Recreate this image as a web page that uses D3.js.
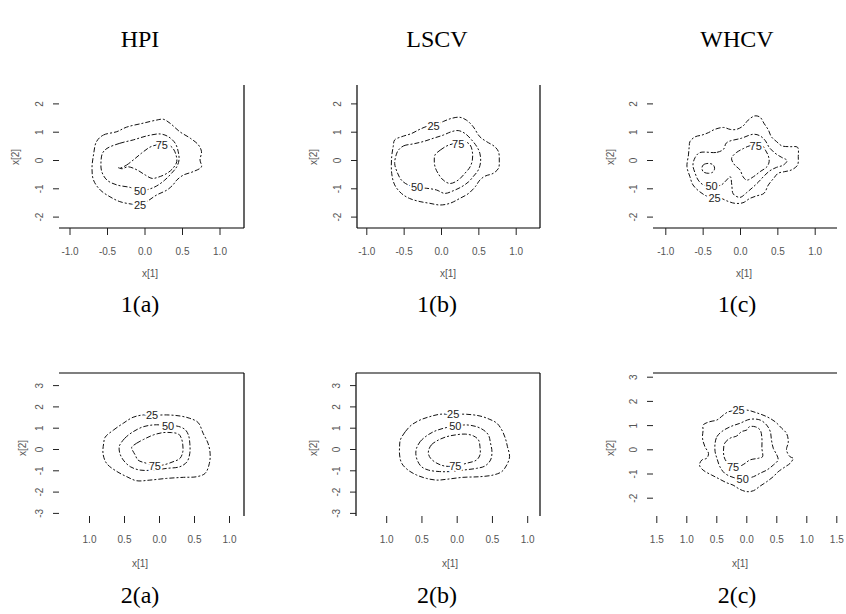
<!DOCTYPE html>
<html><head><meta charset="utf-8">
<script src="https://cdn.jsdelivr.net/npm/d3@7"></script>
<style>
html,body{margin:0;padding:0;background:#fff;}
svg{display:block;}
</style></head><body>
<svg id="chart" width="846" height="614"></svg>
<script>
// Column headings and panel tags
const titles = ["HPI", "LSCV", "WHCV"];
const tagsRow1 = ["1(a)", "1(b)", "1(c)"];
const tagsRow2 = ["2(a)", "2(b)", "2(c)"];

// Tick values
const xTicksRow1 = [-1, -0.5, 0, 0.5, 1];
const yTicksRow1 = [-2, -1, 0, 1, 2];
const xTicks2ab = [-1, -0.5, 0, 0.5, 1];
const yTicks2ab = [-3, -2, -1, 0, 1, 2, 3];
const xTicks2c = [-1.5, -1, -0.5, 0, 0.5, 1, 1.5];
const yTicks2c = [-2, -1, 0, 1, 2, 3];

// Density contours (x[1], x[2]) at the 25%, 50% and 75% levels
const c1a_25 = [[-0.64,0.65],[-0.55,0.88],[-0.37,1.0],[-0.24,1.16],[-0.02,1.3],[0.16,1.41],[0.25,1.44],[0.34,1.3],[0.47,1.0],[0.61,0.77],[0.72,0.53],[0.76,0.29],[0.74,0],[0.76,-0.24],[0.65,-0.41],[0.52,-0.53],[0.43,-0.71],[0.38,-0.88],[0.3,-1.06],[0.16,-1.24],[0.03,-1.47],[-0.06,-1.59],[-0.17,-1.56],[-0.33,-1.47],[-0.46,-1.3],[-0.59,-1.06],[-0.68,-0.71],[-0.7,-0.29],[-0.68,0.18]];
const c1a_50 = [[-0.5,0.41],[-0.33,0.59],[-0.15,0.71],[0.03,0.85],[0.21,0.92],[0.32,0.82],[0.41,0.59],[0.45,0.29],[0.46,0],[0.43,-0.24],[0.36,-0.47],[0.27,-0.71],[0.16,-0.92],[0.05,-1.04],[-0.06,-1.09],[-0.19,-0.97],[-0.37,-0.88],[-0.5,-0.71],[-0.57,-0.41],[-0.58,-0.06],[-0.56,0.24]];
const c1a_75 = [[-0.33,-0.29],[-0.24,-0.18],[-0.15,0],[-0.04,0.24],[0.07,0.45],[0.16,0.53],[0.23,0.52],[0.32,0.53],[0.38,0.41],[0.42,0.18],[0.43,-0.06],[0.38,-0.29],[0.3,-0.47],[0.18,-0.61],[0.1,-0.65],[0.01,-0.53],[-0.1,-0.35],[-0.22,-0.24],[-0.3,-0.31],[-0.35,-0.27]];

const c1b_25 = [[-0.62,0.71],[-0.53,0.82],[-0.39,0.94],[-0.28,1.09],[-0.17,1.2],[-0.1,1.2],[0.03,1.36],[0.14,1.47],[0.25,1.51],[0.34,1.41],[0.43,1.18],[0.52,0.82],[0.61,0.65],[0.72,0.47],[0.77,0.29],[0.78,0],[0.77,-0.29],[0.7,-0.47],[0.59,-0.57],[0.52,-0.71],[0.46,-0.94],[0.37,-1.18],[0.25,-1.36],[0.12,-1.53],[-0.01,-1.59],[-0.15,-1.53],[-0.28,-1.47],[-0.42,-1.36],[-0.53,-1.18],[-0.62,-0.88],[-0.66,-0.47],[-0.66,0.12],[-0.64,0.47]];
const c1b_50 = [[-0.57,0.35],[-0.5,0.5],[-0.37,0.57],[-0.24,0.65],[-0.1,0.77],[0.03,0.88],[0.14,1.0],[0.23,1.04],[0.32,0.94],[0.41,0.71],[0.48,0.47],[0.52,0.24],[0.53,-0.06],[0.5,-0.35],[0.43,-0.59],[0.37,-0.77],[0.28,-0.94],[0.17,-1.08],[0.05,-1.18],[-0.06,-1.06],[-0.19,-1.0],[-0.32,-0.97],[-0.44,-0.88],[-0.53,-0.71],[-0.59,-0.41],[-0.62,-0.12],[-0.6,0.18]];
const c1b_75 = [[-0.08,0.18],[-0.01,0.35],[0.08,0.5],[0.16,0.57],[0.23,0.57],[0.32,0.65],[0.39,0.53],[0.42,0.29],[0.42,0],[0.39,-0.24],[0.32,-0.47],[0.23,-0.71],[0.12,-0.83],[0.03,-0.71],[-0.04,-0.47],[-0.08,-0.24],[-0.09,0]];

const c1c_25 = [[-0.67,0.65],[-0.6,0.82],[-0.51,0.88],[-0.42,0.97],[-0.34,1.08],[-0.22,1.15],[-0.13,1.08],[-0.05,1.08],[0.04,1.2],[0.11,1.41],[0.2,1.56],[0.27,1.51],[0.32,1.3],[0.38,1.06],[0.42,0.82],[0.49,0.65],[0.56,0.5],[0.67,0.47],[0.77,0.45],[0.78,0.12],[0.77,-0.18],[0.69,-0.35],[0.6,-0.41],[0.51,-0.47],[0.45,-0.65],[0.38,-0.88],[0.32,-1.18],[0.22,-1.27],[0.13,-1.36],[0.04,-1.51],[-0.07,-1.53],[-0.18,-1.44],[-0.25,-1.36],[-0.34,-1.36],[-0.45,-1.27],[-0.54,-1.12],[-0.63,-0.88],[-0.67,-0.59],[-0.71,-0.24],[-0.69,0.18],[-0.68,0.47]];
const c1c_50 = [[-0.54,0.26],[-0.31,0.27],[-0.22,0.38],[-0.18,0.61],[0.02,0.77],[0.18,0.91],[0.27,0.85],[0.34,0.68],[0.39,0.45],[0.47,0.24],[0.56,0.09],[0.63,-0.02],[0.58,-0.18],[0.49,-0.26],[0.4,-0.38],[0.32,-0.57],[0.25,-0.77],[0.17,-0.97],[0.09,-1.15],[0,-1.32],[-0.09,-1.2],[-0.11,-0.88],[-0.13,-0.59],[-0.18,-0.71],[-0.25,-0.88],[-0.38,-0.94],[-0.49,-0.88],[-0.56,-0.71],[-0.6,-0.47],[-0.63,-0.18],[-0.6,0.09]];
const c1c_75 = [[-0.11,0.09],[-0.05,0.26],[0.05,0.41],[0.13,0.5],[0.21,0.5],[0.29,0.53],[0.34,0.35],[0.38,0.14],[0.39,-0.06],[0.36,-0.24],[0.27,-0.41],[0.18,-0.59],[0.09,-0.71],[0.04,-0.59],[0,-0.35],[-0.07,-0.18],[-0.11,0]];
const c1c_75b = [[-0.51,-0.29],[-0.49,-0.17],[-0.42,-0.12],[-0.36,-0.17],[-0.34,-0.29],[-0.36,-0.42],[-0.42,-0.47],[-0.49,-0.42]];

const c2a_25 = [[-0.77,0.55],[-0.65,0.89],[-0.51,1.21],[-0.37,1.49],[-0.22,1.6],[-0.1,1.58],[0.11,1.6],[0.3,1.55],[0.44,1.44],[0.56,1.24],[0.63,0.74],[0.7,0.27],[0.73,-0.2],[0.72,-0.67],[0.66,-1.14],[0.54,-1.3],[0.35,-1.33],[0.11,-1.38],[-0.13,-1.46],[-0.32,-1.49],[-0.46,-1.3],[-0.6,-1.06],[-0.75,-0.67],[-0.8,-0.2],[-0.79,0.27]];
const c2a_50 = [[-0.56,0.19],[-0.49,0.5],[-0.37,0.81],[-0.22,1.05],[-0.08,1.13],[0.01,1.13],[0.13,1.05],[0.25,1.08],[0.37,0.92],[0.42,0.66],[0.44,0.27],[0.44,-0.2],[0.4,-0.6],[0.3,-0.83],[0.11,-0.91],[-0.08,-0.99],[-0.27,-0.99],[-0.41,-0.83],[-0.51,-0.52],[-0.56,-0.2],[-0.57,0.08]];
const c2a_75 = [[-0.39,0.08],[-0.32,0.27],[-0.22,0.45],[-0.08,0.66],[0.06,0.77],[0.18,0.77],[0.28,0.7],[0.32,0.5],[0.34,0.19],[0.34,-0.13],[0.3,-0.44],[0.2,-0.6],[0.06,-0.75],[-0.06,-0.8],[-0.18,-0.67],[-0.3,-0.52],[-0.34,-0.28],[-0.38,-0.05]];

const c2b_25 = [[-0.8,0.42],[-0.73,0.81],[-0.64,1.13],[-0.52,1.36],[-0.38,1.52],[-0.24,1.63],[-0.05,1.63],[0.14,1.63],[0.33,1.55],[0.47,1.39],[0.57,1.21],[0.64,0.89],[0.69,0.5],[0.72,0.11],[0.75,-0.36],[0.71,-0.75],[0.64,-1.06],[0.52,-1.22],[0.33,-1.3],[0.09,-1.33],[-0.14,-1.42],[-0.28,-1.46],[-0.43,-1.38],[-0.57,-1.22],[-0.69,-0.99],[-0.78,-0.67],[-0.81,-0.28],[-0.81,0.11]];
const c2b_50 = [[-0.57,0.03],[-0.52,0.34],[-0.43,0.61],[-0.33,0.81],[-0.19,0.97],[-0.02,1.08],[0.14,1.13],[0.28,1.05],[0.38,0.89],[0.45,0.66],[0.48,0.27],[0.5,-0.13],[0.48,-0.52],[0.4,-0.8],[0.28,-0.91],[0.09,-0.99],[-0.1,-1.06],[-0.24,-1.06],[-0.4,-0.99],[-0.5,-0.83],[-0.56,-0.52],[-0.58,-0.2]];
const c2b_75 = [[-0.4,-0.08],[-0.36,0.19],[-0.26,0.42],[-0.14,0.58],[-0.02,0.66],[0.12,0.7],[0.24,0.61],[0.31,0.42],[0.33,0.11],[0.33,-0.28],[0.28,-0.52],[0.14,-0.67],[-0.02,-0.8],[-0.17,-0.8],[-0.28,-0.67],[-0.37,-0.44],[-0.4,-0.24]];

const c2c_25 = [[-0.72,1.0],[-0.61,1.14],[-0.49,1.21],[-0.38,1.42],[-0.3,1.55],[-0.13,1.6],[0.01,1.62],[0.17,1.51],[0.34,1.35],[0.48,1.14],[0.59,0.87],[0.67,0.66],[0.7,0.31],[0.67,-0.03],[0.73,-0.31],[0.78,-0.37],[0.73,-0.58],[0.65,-0.72],[0.53,-0.93],[0.45,-1.13],[0.34,-1.34],[0.23,-1.52],[0.12,-1.71],[0.01,-1.75],[-0.11,-1.65],[-0.22,-1.48],[-0.33,-1.38],[-0.47,-1.2],[-0.58,-1.06],[-0.72,-0.86],[-0.78,-0.65],[-0.74,-0.44],[-0.66,-0.37],[-0.63,-0.17],[-0.69,0.11],[-0.73,0.46],[-0.72,0.8]];
const c2c_50 = [[-0.52,0.25],[-0.49,0.52],[-0.41,0.73],[-0.27,0.93],[-0.11,1.07],[0.06,1.24],[0.23,1.21],[0.34,1.0],[0.4,0.73],[0.42,0.38],[0.45,0.04],[0.51,-0.24],[0.53,-0.44],[0.45,-0.65],[0.34,-0.86],[0.23,-0.99],[0.12,-1.13],[-0.06,-1.23],[-0.22,-1.16],[-0.36,-0.99],[-0.44,-0.72],[-0.49,-0.37],[-0.52,-0.1]];
const c2c_75 = [[-0.38,-0.03],[-0.36,0.25],[-0.27,0.46],[-0.16,0.55],[-0.08,0.73],[0.01,0.8],[0.05,0.93],[0.15,0.93],[0.23,0.8],[0.26,0.46],[0.26,0.04],[0.27,-0.31],[0.2,-0.37],[0.06,-0.44],[-0.02,-0.58],[-0.1,-0.69],[-0.22,-0.72],[-0.33,-0.51],[-0.37,-0.31]];

// Contour level labels: [text, x[1], x[2]]
const lab1a = [["75",0.23,0.52],["50",-0.06,-1.09],["25",-0.06,-1.59]];
const lab1b = [["25",-0.1,1.2],["75",0.23,0.57],["50",-0.32,-0.97]];
const lab1c = [["75",0.21,0.5],["50",-0.38,-0.94],["25",-0.34,-1.36]];
const lab2a = [["25",-0.1,1.58],["50",0.13,1.05],["75",-0.06,-0.8]];
const lab2b = [["25",-0.05,1.63],["50",-0.02,1.08],["75",-0.02,-0.8]];
const lab2c = [["25",-0.13,1.6],["50",-0.06,-1.23],["75",-0.22,-0.72]];

// ---- layout ----
const colCenters = [140, 437, 737];
const serif = "'Liberation Serif','Times New Roman',serif";
const sans = "'Liberation Sans',Arial,sans-serif";
const inkFaint = "#555";

const fmtSigned = d => d.toFixed(1);
const fmtPlain = d => Math.abs(d).toFixed(1);

// box: [left, right, top, bottom]; x0/y0: pixel of value 0; xu/yu: pixels per unit
const panels = [
  {box:[59,244,85,228],  x0:144.5, xu:75,   y0:160,   yu:28.3, xt:xTicksRow1, yt:yTicksRow1, xf:fmtSigned, frame:["bottom","right"],        cs:[c1a_25,c1a_50,c1a_75], labs:lab1a, xlab:[150,277], ylab:[15,157]},
  {box:[357,540,85,228], x0:441,   xu:74.7, y0:160,   yu:28.3, xt:xTicksRow1, yt:yTicksRow1, xf:fmtSigned, frame:["left","bottom","right"], cs:[c1b_25,c1b_50,c1b_75], labs:lab1b, xlab:[448,277], ylab:[313,157]},
  {box:[653,837,85,228], x0:740,   xu:74.7, y0:160,   yu:28.3, xt:xTicksRow1, yt:yTicksRow1, xf:fmtSigned, frame:["bottom"],                 cs:[c1c_25,c1c_50,c1c_75,c1c_75b], labs:lab1c, xlab:[744,277], ylab:[610,157]},
  {box:[59,244,373,516], x0:159,   xu:70,   y0:449,   yu:21.3, xt:xTicks2ab,  yt:yTicks2ab,  xf:fmtPlain,  frame:["top","right"],           cs:[c2a_25,c2a_50,c2a_75], labs:lab2a, xlab:[140,567], ylab:[22,448]},
  {box:[356,540,373,516],x0:456.7, xu:70.5, y0:449,   yu:21.3, xt:xTicks2ab,  yt:yTicks2ab,  xf:fmtPlain,  frame:["left","top","right"],    cs:[c2b_25,c2b_50,c2b_75], labs:lab2b, xlab:[450,567], ylab:[313,448]},
  {box:[653,837,373,516],x0:746.3, xu:60,   y0:449.3, yu:24.2, xt:xTicks2c,   yt:yTicks2c,   xf:fmtPlain,  frame:["top"],                   cs:[c2c_25,c2c_50,c2c_75], labs:lab2c, xlab:[740,567], ylab:[610,448]}
];

const svg = d3.select("#chart");

titles.forEach((t, i) => {
  svg.append("text").attr("x", colCenters[i]).attr("y", 47)
    .attr("text-anchor", "middle").attr("font-family", serif).attr("font-size", 24)
    .attr("fill", "#000").text(t);
});
[[tagsRow1, 312], [tagsRow2, 603]].forEach(([tags, yy]) => {
  tags.forEach((t, i) => {
    svg.append("text").attr("x", colCenters[i]).attr("y", yy)
      .attr("text-anchor", "middle").attr("font-family", serif).attr("font-size", 24)
      .attr("fill", "#000").text(t);
  });
});

function drawPanel(p) {
  const [L, R, T, B] = p.box;
  const x = d3.scaleLinear().domain([0, 1]).range([p.x0, p.x0 + p.xu]);
  const y = d3.scaleLinear().domain([0, 1]).range([p.y0, p.y0 - p.yu]);
  const g = svg.append("g");

  const segs = {left:[L,T,L,B], right:[R,T,R,B], top:[L,T,R,T], bottom:[L,B,R,B]};
  p.frame.forEach(s => {
    const [x1, y1, x2, y2] = segs[s];
    g.append("line").attr("x1", x1).attr("y1", y1).attr("x2", x2).attr("y2", y2)
      .attr("stroke", "#000").attr("stroke-width", 1.2);
  });

  const xa = g.append("g").attr("transform", `translate(0,${B})`)
    .call(d3.axisBottom(x).tickValues(p.xt).tickSize(7).tickFormat(p.xf));
  xa.select(".domain").remove();
  xa.selectAll(".tick line").attr("stroke", "#222");
  xa.selectAll("text").attr("y", 27).attr("dy", null)
    .attr("font-family", sans).attr("font-size", 10).attr("fill", inkFaint);

  const ya = g.append("g").attr("transform", `translate(${L},0)`)
    .call(d3.axisLeft(y).tickValues(p.yt).tickSize(6).tickFormat(d => String(d)));
  ya.select(".domain").remove();
  ya.selectAll(".tick line").attr("stroke", "#222");
  ya.selectAll("text").attr("x", null).attr("dy", null).attr("text-anchor", "middle")
    .attr("transform", "translate(-16,0) rotate(-90)")
    .attr("font-family", sans).attr("font-size", 10).attr("fill", inkFaint);

  svg.append("text").attr("x", p.xlab[0]).attr("y", p.xlab[1]).attr("text-anchor", "middle")
    .attr("font-family", sans).attr("font-size", 10).attr("fill", inkFaint).text("x[1]");
  svg.append("text").attr("transform", `translate(${p.ylab[0] + 4},${p.ylab[1]}) rotate(-90)`)
    .attr("text-anchor", "middle").attr("font-family", sans).attr("font-size", 10)
    .attr("fill", inkFaint).text("x[2]");

  const line = d3.line().x(d => x(d[0])).y(d => y(d[1])).curve(d3.curveCatmullRomClosed.alpha(0.5));
  p.cs.forEach(c => {
    g.append("path").attr("d", line(c)).attr("fill", "none")
      .attr("stroke", "#111").attr("stroke-width", 1)
      .attr("stroke-dasharray", "5 2 2 2");
  });

  p.labs.forEach(([t, lx, ly]) => {
    g.append("text").attr("x", x(lx)).attr("y", y(ly)).attr("dy", "0.35em")
      .attr("text-anchor", "middle").attr("font-family", sans).attr("font-size", 11)
      .attr("fill", "#222").attr("stroke", "#fff").attr("stroke-width", 4)
      .attr("paint-order", "stroke").text(t);
  });
}

panels.forEach(drawPanel);
</script>
</body></html>
